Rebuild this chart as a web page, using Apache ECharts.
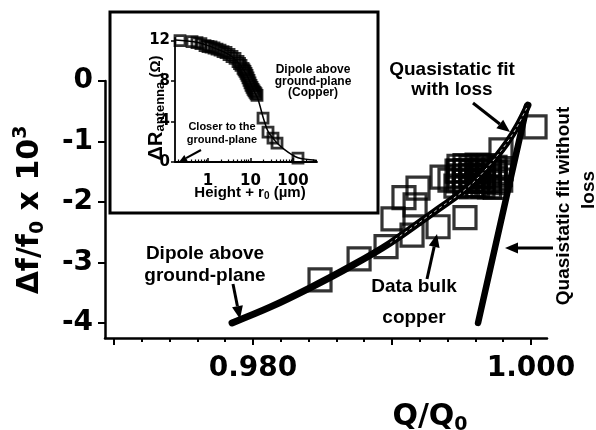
<!DOCTYPE html>
<html><head><meta charset="utf-8">
<script src="https://cdn.jsdelivr.net/npm/echarts@6/dist/echarts.min.js"></script>
<style>html,body{margin:0;padding:0;background:#fff}#c{width:596px;height:430px}</style>
</head><body><div id="c"></div>
<script>
// ---- main plot ticks ----
const xMajorTicks = [0.970, 0.980, 0.990, 1.000];
const xMinorTicks = [0.972, 0.974, 0.976, 0.978, 0.982, 0.984, 0.986, 0.988, 0.992, 0.994, 0.996, 0.998];
const xTickLabels = [0.980, 1.000];
const yTickLabels = [0, -1, -2, -3, -4];

// ---- main plot data: Data bulk copper (Q/Q0, df/f0 x 1e3) ----
const bulkQ  = [0.98482, 0.98763, 0.98957, 0.99007, 0.99144, 0.99086, 0.99166, 0.99187, 0.99331, 0.99360, 0.99468, 0.99525, 0.99417,
                0.99482, 0.99525, 0.99568, 0.99612, 0.99655, 0.99698, 0.99741, 0.99784,
                0.99480, 0.99527, 0.99570, 0.99610, 0.99656, 0.99700, 0.99740, 0.99780,
                0.99484, 0.99524, 0.99566, 0.99613, 0.99653, 0.99697, 0.99743, 0.99782,
                0.99479, 0.99526, 0.99569, 0.99611, 0.99657, 0.99699, 0.99739,
                0.99460, 0.99523, 0.99571, 0.99614, 0.99654, 0.99701, 0.99742,
                0.99784, 1.00029];
const bulkDf = [-3.29, -2.94, -2.74, -2.28, -2.55, -1.93, -2.05, -1.77, -2.41, -1.59, -1.49, -2.26, -1.64,
                -1.41, -1.40, -1.42, -1.39, -1.41, -1.40, -1.43, -1.45,
                -1.49, -1.48, -1.50, -1.49, -1.47, -1.49, -1.51, -1.55,
                -1.57, -1.58, -1.56, -1.57, -1.58, -1.57, -1.60, -1.64,
                -1.65, -1.66, -1.64, -1.65, -1.66, -1.65, -1.68,
                -1.74, -1.73, -1.75, -1.73, -1.74, -1.75, -1.76,
                -1.14, -0.76];

// Quasistatic fit with loss
const withLossQ  = [0.97849, 0.98122, 0.98410, 0.98698, 0.98986, 0.99324, 0.99540, 0.99683, 0.99827, 0.99906, 0.99978];
const withLossDf = [-4.00, -3.74, -3.42, -3.07, -2.68, -2.13, -1.77, -1.44, -1.02, -0.73, -0.40];
// Quasistatic fit without loss
const noLossQ  = [0.99619, 0.99971];
const noLossDf = [-4.00, -0.41];

// ---- inset ----
const insetTicksMajor = [1, 10, 100];
const insetTicksMinor = [0.2,0.3,0.4,0.5,0.6,0.7,0.8,0.9, 2,3,4,5,6,7,8,9, 20,30,40,50,60,70,80,90, 200,300];
const insetYTicks = [0, 4, 8, 12];
const insetH  = [0.219, 0.42, 0.55, 0.68,
                 0.850, 1.000, 1.177, 1.384, 1.628, 1.916, 2.254, 2.652, 3.120, 3.671, 4.318, 5.081, 5.51, 5.977, 6.661,
                 7.03, 7.421, 7.84, 8.271, 8.73, 9.219, 9.73, 10.27, 10.85, 11.45, 12.09, 12.76, 13.47, 14.22,
                 19.7, 25.8, 33.8, 42, 131];
const insetDR = [12.0, 11.9, 11.8, 11.7,
                 11.50, 11.41, 11.36, 11.26, 11.16, 11.06, 10.91, 10.82, 10.62, 10.42, 10.23, 9.93, 9.73, 9.54, 9.24,
                 9.10, 8.95, 8.75, 8.55, 8.31, 8.06, 7.82, 7.57, 7.37, 7.18, 7.03, 6.88, 6.74, 6.59,
                 4.33, 2.95, 2.36, 1.87, 0.39];
const insetCurveH = [0.17, 0.5, 1, 2, 3, 5, 8, 12, 15, 20, 26, 34, 42, 60, 100, 131, 200, 367];
const insetCurveR = [12.05, 11.85, 11.5, 11.0, 10.65, 9.9, 8.65, 7.05, 6.2, 4.35, 3.0, 2.35, 1.87, 1.3, 0.65, 0.42, 0.28, 0.16];

const zip = (a, b) => a.map((v, i) => [v, b[i]]);
const TF = 'DejaVu Sans';
const AF = 'Liberation Sans';

function arrow(x1, y1, x2, y2, lw, hl, hw) {
  const ang = Math.atan2(y2 - y1, x2 - x1);
  const bx = x2 - hl * Math.cos(ang), by = y2 - hl * Math.sin(ang);
  const px = -Math.sin(ang) * hw / 2, py = Math.cos(ang) * hw / 2;
  return [
    {type: 'line', z: 100, shape: {x1: x1, y1: y1, x2: bx, y2: by}, style: {stroke: '#000', lineWidth: lw}},
    {type: 'polygon', z: 100, shape: {points: [[x2, y2], [bx + px, by + py], [bx - px, by - py]]}, style: {fill: '#000'}}
  ];
}
function txt(x, y, t, size, opts) {
  return Object.assign({type: 'text', z: 100, x: x, y: y,
    style: {text: t, fill: '#000', font: 'bold ' + size + 'px "' + AF + '"', align: 'center', verticalAlign: 'middle'}}, opts || {});
}

const chart = echarts.init(document.getElementById('c'), null, {renderer: 'canvas'});

const blackLine = {show: true, onZero: false, lineStyle: {color: '#000', width: 2.5}};
const option = {
  backgroundColor: '#fff',
  animation: false,
  grid: [
    {left: 105, top: 81, width: 442, height: 257},
    {left: 175, top: 38, width: 142, height: 124}
  ],
  xAxis: [
    {type: 'value', gridIndex: 0, position: 'bottom', min: 0.96935, max: 1.00115, axisLine: blackLine,
     axisTick: {show: true, customValues: xMajorTicks, length: 7, lineStyle: {color: '#000', width: 2}},
     axisLabel: {customValues: xTickLabels, formatter: v => v.toFixed(3), color: '#000', fontFamily: TF, fontWeight: 'bold', fontSize: 28, margin: 17},
     splitLine: {show: false}},
    {type: 'value', gridIndex: 0, position: 'bottom', min: 0.96935, max: 1.00115, axisLine: {show: false, onZero: false},
     axisTick: {show: true, customValues: xMinorTicks, length: 4, lineStyle: {color: '#000', width: 2}},
     axisLabel: {show: false}, splitLine: {show: false}},
    {type: 'log', logBase: 10, gridIndex: 1, position: 'bottom', min: 0.167, max: 367,
     axisLine: {show: true, onZero: false, lineStyle: {color: '#000', width: 1.8}},
     axisTick: {show: true, inside: true, customValues: insetTicksMajor, length: 4, lineStyle: {color: '#000', width: 1.5}},
     axisLabel: {customValues: insetTicksMajor, formatter: v => String(Math.round(v)), color: '#000', fontFamily: TF, fontWeight: 'bold', fontSize: 15, margin: 12},
     splitLine: {show: false}},
    {type: 'log', logBase: 10, gridIndex: 1, position: 'bottom', min: 0.167, max: 367, axisLine: {show: false, onZero: false},
     axisTick: {show: true, inside: true, customValues: insetTicksMinor, length: 2.5, lineStyle: {color: '#000', width: 1.2}},
     axisLabel: {show: false}, splitLine: {show: false}}
  ],
  yAxis: [
    {type: 'value', gridIndex: 0, position: 'left', min: -4.25, max: 0, axisLine: blackLine,
     axisTick: {show: true, customValues: yTickLabels, length: 7, lineStyle: {color: '#000', width: 2}},
     axisLabel: {customValues: yTickLabels, formatter: v => String(v), color: '#000', fontFamily: TF, fontWeight: 'bold', fontSize: 28, margin: 12},
     splitLine: {show: false}},
    {type: 'value', gridIndex: 1, position: 'left', min: 0, max: 12.25,
     axisLine: {show: true, onZero: false, lineStyle: {color: '#000', width: 1.8}},
     axisTick: {show: true, customValues: insetYTicks, length: 4, lineStyle: {color: '#000', width: 1.5}},
     axisLabel: {customValues: insetYTicks, color: '#000', fontFamily: TF, fontWeight: 'bold', fontSize: 15, margin: 5},
     splitLine: {show: false}}
  ],
  series: [
    {type: 'scatter', name: 'Data bulk copper', xAxisIndex: 0, yAxisIndex: 0, data: zip(bulkQ, bulkDf),
     symbol: 'rect', symbolSize: 22, itemStyle: {color: 'rgba(0,0,0,0)', borderColor: '#000', borderWidth: 3.2}, z: 2},
    {type: 'line', name: 'Quasistatic fit with loss', xAxisIndex: 0, yAxisIndex: 0, data: zip(withLossQ, withLossDf),
     smooth: 0.35, showSymbol: false, lineStyle: {color: '#000', width: 7, cap: 'round', join: 'round'}, z: 3},
    {type: 'line', name: 'with loss trace', xAxisIndex: 0, yAxisIndex: 0, data: zip(withLossQ, withLossDf).slice(4),
     smooth: 0.35, showSymbol: false, lineStyle: {color: '#d8d8d8', width: 1, type: [3, 3]}, z: 4},
    {type: 'line', name: 'Quasistatic fit without loss', xAxisIndex: 0, yAxisIndex: 0, data: zip(noLossQ, noLossDf),
     showSymbol: false, lineStyle: {color: '#000', width: 6.5, cap: 'round'}, z: 3},
    {type: 'line', name: 'inset fit', xAxisIndex: 2, yAxisIndex: 1, data: zip(insetCurveH, insetCurveR),
     smooth: 0.3, showSymbol: false, lineStyle: {color: '#000', width: 1.5}, z: 3},
    {type: 'scatter', name: 'inset data', xAxisIndex: 2, yAxisIndex: 1, data: zip(insetH, insetDR),
     symbol: 'rect', symbolSize: 10, itemStyle: {color: 'rgba(0,0,0,0)', borderColor: '#000', borderWidth: 2.8}, z: 4}
  ],
  graphic: [
    {type: 'rect', z: -10, shape: {x: 110, y: 12, width: 268, height: 201}, style: {fill: '#fff', stroke: '#000', lineWidth: 3}},
    // axis names
    {type: 'text', z: 100, x: 30, y: 210, rotation: Math.PI / 2,
     style: {text: '{a|Δf/f}{s|0}{a| x 10}{p|3}', align: 'center', verticalAlign: 'middle', fill: '#000',
       rich: {a: {fontFamily: TF, fontWeight: 'bold', fontSize: 30, lineHeight: 36},
              s: {fontFamily: TF, fontWeight: 'bold', fontSize: 19, lineHeight: 19, verticalAlign: 'bottom'},
              p: {fontFamily: TF, fontWeight: 'bold', fontSize: 19, lineHeight: 19, verticalAlign: 'top'}}}},
    {type: 'text', z: 100, x: 430, y: 417,
     style: {text: '{a|Q/Q}{s|0}', align: 'center', verticalAlign: 'middle', fill: '#000',
       rich: {a: {fontFamily: TF, fontWeight: 'bold', fontSize: 30, lineHeight: 36},
              s: {fontFamily: TF, fontWeight: 'bold', fontSize: 19, lineHeight: 19, verticalAlign: 'bottom'}}}},
    {type: 'text', z: 100, x: 156, y: 108, rotation: Math.PI / 2,
     style: {text: '{a|ΔR}{s|antenna}{b| (Ω)}', align: 'center', verticalAlign: 'middle', fill: '#000',
       rich: {a: {fontFamily: AF, fontWeight: 'bold', fontSize: 20, lineHeight: 22},
              s: {fontFamily: AF, fontWeight: 'bold', fontSize: 13, lineHeight: 13, verticalAlign: 'bottom'},
              b: {fontFamily: AF, fontWeight: 'bold', fontSize: 15, lineHeight: 22}}}},
    {type: 'text', z: 100, x: 250, y: 193,
     style: {text: '{a|Height + r}{s|0}{a| (µm)}', align: 'center', verticalAlign: 'middle', fill: '#000',
       rich: {a: {fontFamily: AF, fontWeight: 'bold', fontSize: 15, lineHeight: 17},
              s: {fontFamily: AF, fontWeight: 'bold', fontSize: 10, lineHeight: 10, verticalAlign: 'bottom'}}}},
    // annotations main
    txt(452, 70, 'Quasistatic fit', 19),
    txt(452, 90, 'with loss', 19),
    txt(564, 206, 'Quasistatic fit without', 19, {rotation: Math.PI / 2}),
    txt(589, 190, 'loss', 19, {rotation: Math.PI / 2}),
    txt(414, 287, 'Data bulk', 19),
    txt(414, 318, 'copper', 19),
    txt(205, 254, 'Dipole above', 19),
    txt(205, 276, 'ground-plane', 19),
    // annotations inset
    txt(313, 70, 'Dipole above', 12),
    txt(313, 81.5, 'ground-plane', 12),
    txt(313, 93, '(Copper)', 12),
    txt(222, 127, 'Closer to the', 11),
    txt(222, 140, 'ground-plane', 11),
    ...arrow(473, 103, 510, 132, 3, 13, 11),
    ...arrow(553, 248, 505, 248, 3, 13, 11),
    ...arrow(427, 279, 437, 234, 3, 13, 11),
    ...arrow(233, 284, 240, 319, 3, 13, 11),
    ...arrow(201, 150, 179, 162, 2, 8, 7)
  ]
};
chart.setOption(option);
</script></body></html>
